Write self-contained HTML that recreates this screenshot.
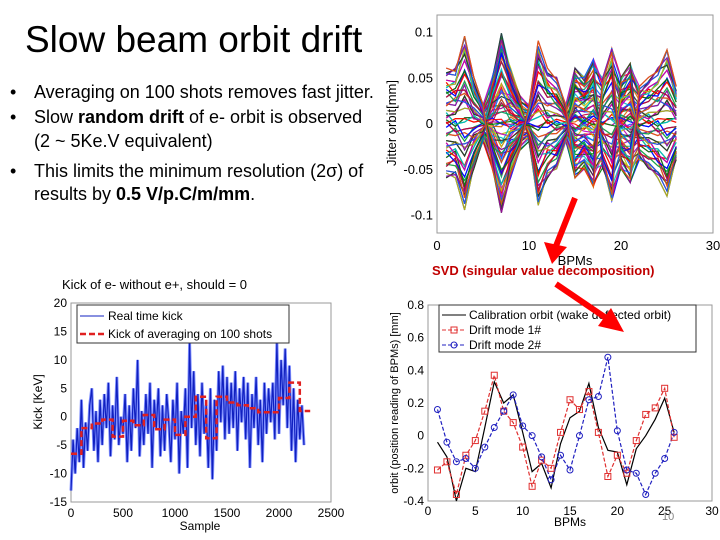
<!DOCTYPE html>
<html><head><meta charset="utf-8"><style>
body{margin:0;background:#fff;}
svg{display:block;font-family:"Liberation Sans",sans-serif;}
</style></head><body>
<svg id="s" width="720" height="540" viewBox="0 0 720 540">
<text x="25" y="52" font-size="37" fill="#000">Slow beam orbit drift</text>
<g font-size="18" fill="#000">
<text x="10" y="98">•</text><text x="34" y="98">Averaging on 100 shots removes fast jitter.</text>
<text x="10" y="123">•</text><text x="34" y="123">Slow <tspan font-weight="bold">random drift</tspan> of e- orbit is observed</text>
<text x="34" y="147">(2 ~ 5Ke.V equivalent)</text>
<text x="10" y="177">•</text><text x="34" y="177">This limits the minimum resolution (2σ) of</text>
<text x="34" y="200">results by <tspan font-weight="bold">0.5 V/p.C/m/mm</tspan>.</text>
</g>
<text x="62" y="289" font-size="13">Kick of e- without e+, should = 0</text>
<text x="432" y="275" font-size="13" font-weight="bold" fill="#c00000">SVD (singular value decomposition)</text>
<g id="jit"></g>
<g id="kick"></g>
<g id="svd"></g>
<g>
<line x1="575" y1="198" x2="556" y2="246" stroke="#f00" stroke-width="6"/>
<polygon points="544,242 552,264 567,247" fill="#f00"/>
<line x1="556" y1="284" x2="606" y2="318" stroke="#f00" stroke-width="6"/>
<polygon points="598,326 624,332 611,308" fill="#f00"/>
</g>
<text x="662" y="520" font-size="11" fill="#888">10</text>
</svg>
<script>
const NS="http://www.w3.org/2000/svg";
function mk(p,tag,a,txt){const e=document.createElementNS(NS,tag);for(const k in a)e.setAttribute(k,a[k]);if(txt!==undefined)e.textContent=txt;p.appendChild(e);return e;}

// ---- jitter chart data
const jitBpm=[1,2,3,4,5,6,7,8,9,10,11,12,13,14,15,16,17,18,19,20,21,22,23,24,25,26];
const jitAmp=[0.06,0.06,0.095,0.05,0.02,0.05,0.1,0.06,0.03,0.02,0.09,0.06,0.05,0.02,0.06,0.05,0.07,0.05,0.085,0.05,0.065,0.04,0.05,0.06,0.08,0.04];
const jitLobe=[1,1,1,1,1,-1,-1,-1,-1,1,1,1,1,1,-1,-1,-1,1,1,-1,-1,1,1,1,1,1];
const jitCoef=[-1,-0.95,-0.9,-0.85,-0.8,-0.75,-0.7,-0.65,-0.6,-0.55,-0.5,-0.45,-0.4,-0.35,-0.3,-0.25,-0.2,-0.15,-0.1,-0.05,0,0.05,0.1,0.15,0.2,0.25,0.3,0.35,0.4,0.45,0.5,0.55,0.6,0.65,0.7,0.75,0.8,0.85,0.9,0.95,1];
const jitShift=[0.3,-0.2,0.1,-0.4,0.2,0,-0.3,0.4,-0.1,0.2,-0.2];
const jitXTicks=[0,10,20,30];
const jitYTicks=[0.1,0.05,0,-0.05,-0.1];
const jitYLab=["0.1","0.05","0","-0.05","-0.1"];

// ---- kick chart data
const kickAvg=[-6.5,-2,-1.2,-0.5,-3.5,-0.7,-1.5,0.3,-2.2,-0.5,-3.2,0,3.5,-3.8,3.5,2.5,2,1.5,0.8,0.8,3.3,6,1];
const kickRaw=[-13,-4,-10,-2,-8,3,-9,-1,-6,2,5,-6,1,-8,3,-5,4,-2,6,-7,2,-4,7,-5,0,-3,4,-8,2,-6,5,-2,10,-7,1,-5,4,-3,6,-9,3,-2,5,-7,2,-6,4,-1,-8,3,-4,6,-10,1,-3,5,-9,13,-2,8,-5,4,-7,6,-3,2,-9,5,-11,3,-6,8,-1,9,-4,7,-3,6,-2,8,-6,5,-1,7,-4,6,-9,4,-2,7,-5,3,-8,6,-3,5,-1,6,-4,13,-3,10,2,12,-2,9,-6,5,-8,3,-4,2,-5];
const kickXTicks=[0,500,1000,1500,2000,2500];
const kickYTicks=[20,15,10,5,0,-5,-10,-15];

// ---- svd chart data
const svdBpm=[1,2,3,4,5,6,7,8,9,10,11,12,13,14,15,16,17,18,19,20,21,22,23,24,25,26];
const svdCal=[-0.04,-0.13,-0.4,-0.2,-0.22,0.05,0.33,0.2,0.25,0.02,-0.22,-0.17,-0.32,-0.05,0.11,0.15,0.32,0.05,-0.09,-0.1,-0.3,-0.08,0,0.1,0.23,0.02];
const svdMode1=[-0.21,-0.16,-0.36,-0.12,-0.03,0.15,0.37,0.15,0.08,-0.07,-0.31,-0.15,-0.2,0.02,0.22,0.16,0.27,0.02,-0.25,-0.12,-0.23,-0.03,0.13,0.17,0.29,-0.01];
const svdMode2=[0.16,-0.04,-0.16,-0.14,-0.2,-0.07,0.05,0.15,0.25,0.06,0,-0.13,-0.27,-0.12,-0.21,0,0.22,0.24,0.48,0.03,-0.21,-0.23,-0.36,-0.23,-0.14,0.02];
const svdXTicks=[0,5,10,15,20,25,30];
const svdYTicks=[0.8,0.6,0.4,0.2,0,-0.2,-0.4];

function frame(g,L,T,R,B){const r=mk(g,'rect',{x:L,y:T,width:R-L,height:B-T,fill:'#fff',stroke:'#999','stroke-width':1});
}

// Jitter
(function(){const g=document.getElementById('jit');const L=437,R=713,T=15,B=233;
const x=v=>L+(v/30)*(R-L), y=v=>123-(v/0.1)*91.5;
frame(g,L,T,R,B);
const cols=['#0000ff','#008000','#ff0000','#00bfbf','#bf00bf','#bfbf00','#303030','#0060ff','#a000a0','#e06000','#00a060','#c00040'];
[0,1].forEach(fam=>{jitCoef.forEach((c,k)=>{let d='';jitBpm.forEach((b,i)=>{const sh=jitShift[(i*3+k)%jitShift.length]*0.3;const s=fam?jitLobe[i]:1;const v=jitAmp[i]*Math.max(-1,Math.min(1,c+sh))*s;d+=(i?'L':'M')+x(b).toFixed(1)+','+y(v).toFixed(1);});
const p=mk(g,'path',{d:d,fill:'none',stroke:cols[(k+fam*5)%cols.length],'stroke-width':1.2,opacity:0.9});
});});
jitXTicks.forEach(t=>{mk(g,'text',{x:x(t),y:B+17,'font-size':13,'text-anchor':'middle'},String(t));});
jitYTicks.forEach((t,i)=>{mk(g,'text',{x:L-4,y:y(t)+5,'font-size':13,'text-anchor':'end'},jitYLab[i]);});
mk(g,'text',{x:575,y:265,'font-size':13,'text-anchor':'middle'},'BPMs');
mk(g,'text',{x:0,y:0,'font-size':13,'text-anchor':'middle',transform:'translate(396,123) rotate(-90)'},'Jitter orbit[mm]');
})();

// Kick
(function(){const g=document.getElementById('kick');const L=71,R=331,T=303,B=502;
const x=v=>L+(v/2500)*(R-L), y=v=>T+(20-v)/35*(B-T);
frame(g,L,T,R,B);
let d='';kickRaw.forEach((v,i)=>{d+=(i?'L':'M')+x(i*20).toFixed(1)+','+y(v).toFixed(1);});
let p=mk(g,'path',{d:d,fill:'none',stroke:'#8090ff','stroke-width':3});
p=mk(g,'path',{d:d,fill:'none',stroke:'#1020c0','stroke-width':1.2});
let a='';kickAvg.forEach((v,i)=>{a+=(i?'L':'M')+x(i*100).toFixed(1)+','+y(v).toFixed(1)+'L'+x(i*100+100).toFixed(1)+','+y(v).toFixed(1);});
p=mk(g,'path',{d:a,fill:'none',stroke:'#e02020','stroke-width':2.5,'stroke-dasharray':'6,3'});
kickXTicks.forEach(t=>{mk(g,'text',{x:x(t),y:B+15,'font-size':12,'text-anchor':'middle'},String(t));});
kickYTicks.forEach(t=>{mk(g,'text',{x:L-4,y:y(t)+4,'font-size':12,'text-anchor':'end'},String(t));});
mk(g,'text',{x:200,y:530,'font-size':12,'text-anchor':'middle'},'Sample');
mk(g,'text',{x:0,y:0,'font-size':12,'text-anchor':'middle',transform:'translate(42,402) rotate(-90)'},'Kick [KeV]');
const lg=mk(g,'g',{});
mk(lg,'rect',{x:77,y:305,width:212,height:38,fill:'#fff',stroke:'#333'});
mk(lg,'line',{x1:80,y1:316,x2:104,y2:316,stroke:'#1020c0'});
mk(lg,'text',{x:108,y:320,'font-size':12},'Real time kick');
mk(lg,'line',{x1:80,y1:334,x2:104,y2:334,stroke:'#e02020','stroke-width':2.5,'stroke-dasharray':'6,3'});
mk(lg,'text',{x:108,y:338,'font-size':12},'Kick of averaging on 100 shots');
})();

// SVD
(function(){const g=document.getElementById('svd');const L=428,R=712,T=305,B=501;
const x=v=>L+(v/30)*(R-L), y=v=>T+(0.8-v)/1.2*(B-T);
frame(g,L,T,R,B);
function path(arr,col,dash,name){let d='';arr.forEach((v,i)=>{d+=(i?'L':'M')+x(svdBpm[i]).toFixed(1)+','+y(v).toFixed(1);});
const p=mk(g,'path',{d:d,fill:'none',stroke:col,'stroke-width':1.2,'stroke-dasharray':dash});}
path(svdCal,'#000','','calibration-orbit-line');
path(svdMode1,'#e03030','4,2','drift-mode-1-line');
path(svdMode2,'#2020c0','4,2','drift-mode-2-line');
svdMode1.forEach((v,i)=>{const m=mk(g,'rect',{x:x(svdBpm[i])-3,y:y(v)-3,width:6,height:6,fill:'none',stroke:'#e03030'});});
svdMode2.forEach((v,i)=>{const m=mk(g,'circle',{cx:x(svdBpm[i]),cy:y(v),r:3,fill:'none',stroke:'#2020c0'});});
svdXTicks.forEach(t=>{mk(g,'text',{x:x(t),y:B+14,'font-size':12,'text-anchor':'middle'},String(t));});
svdYTicks.forEach(t=>{mk(g,'text',{x:L-4,y:y(t)+4,'font-size':12,'text-anchor':'end'},String(t));});
mk(g,'text',{x:570,y:526,'font-size':12,'text-anchor':'middle'},'BPMs');
mk(g,'text',{x:0,y:0,'font-size':11,'text-anchor':'middle',transform:'translate(398,403) rotate(-90)'},'orbit (position reading of BPMs) [mm]');
const lg=mk(g,'g',{});
mk(lg,'rect',{x:439,y:305,width:257,height:47,fill:'#fff',stroke:'#333'});
mk(lg,'line',{x1:442,y1:315,x2:466,y2:315,stroke:'#000'});
mk(lg,'text',{x:469,y:319,'font-size':12},'Calibration orbit (wake deflected orbit)');
mk(lg,'line',{x1:442,y1:330,x2:466,y2:330,stroke:'#e03030','stroke-dasharray':'4,2'});
mk(lg,'rect',{x:451,y:327,width:6,height:6,fill:'none',stroke:'#e03030'});
mk(lg,'text',{x:469,y:334,'font-size':12},'Drift mode 1#');
mk(lg,'line',{x1:442,y1:345,x2:466,y2:345,stroke:'#2020c0','stroke-dasharray':'4,2'});
mk(lg,'circle',{cx:454,cy:345,r:3,fill:'none',stroke:'#2020c0'});
mk(lg,'text',{x:469,y:349,'font-size':12},'Drift mode 2#');
})();
</script>
</body></html>
